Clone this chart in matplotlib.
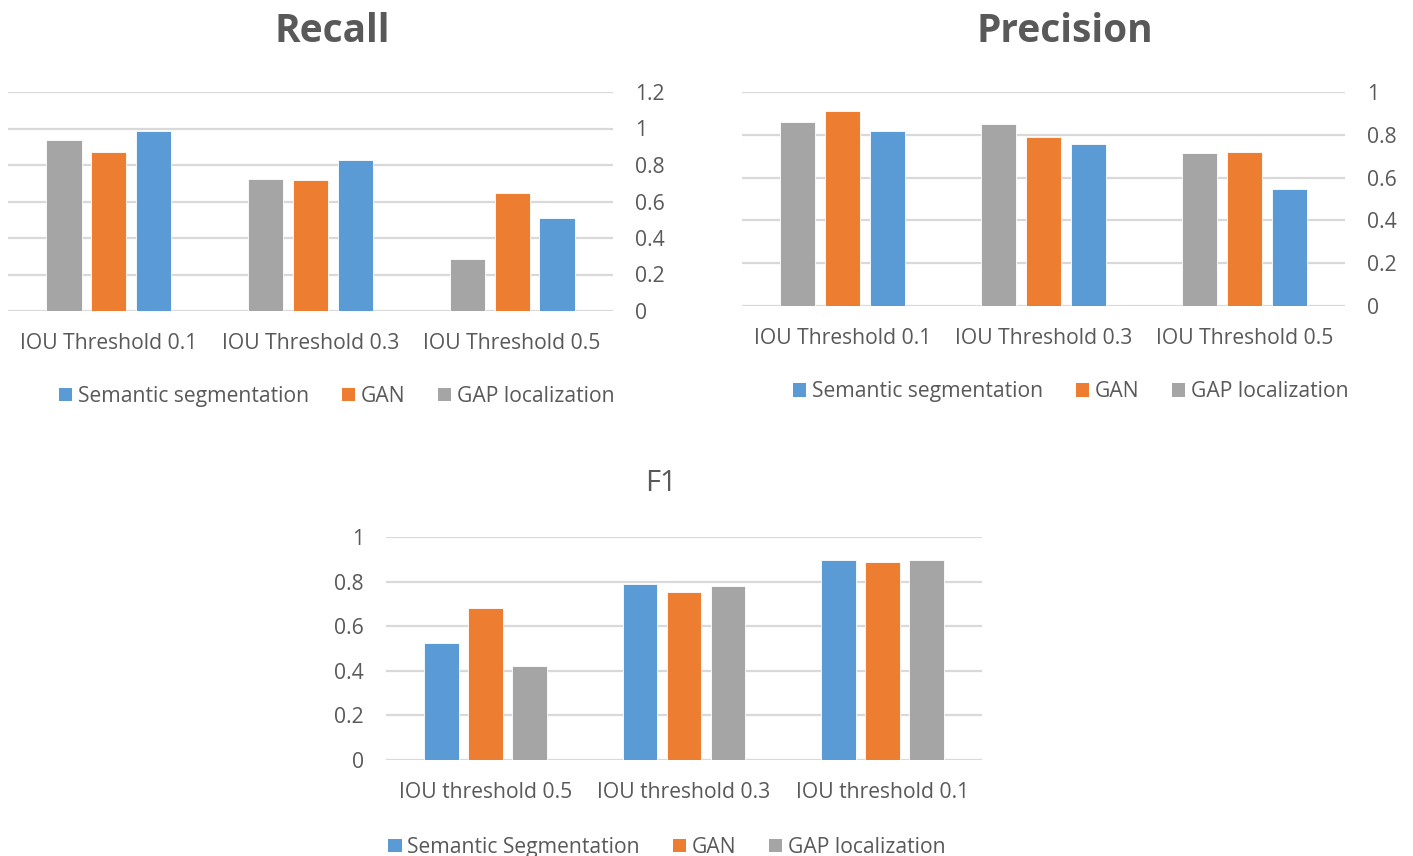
import numpy as np
import matplotlib
matplotlib.use("Agg")
import matplotlib.pyplot as plt
from matplotlib.patches import Patch

plt.rcParams['font.family'] = ['Open Sans', 'DejaVu Sans']

# Series colours
BLUE = "#5B9BD5"
ORANGE = "#ED7D31"
GRAY = "#A5A5A5"
TEXT = "#595959"
GRID = "#D9D9D9"

series_names = ["Semantic segmentation", "GAN", "GAP localization"]
f1_series_names = ["Semantic Segmentation", "GAN", "GAP localization"]

# Recall
recall_categories = ["IOU Threshold 0.1", "IOU Threshold 0.3", "IOU Threshold 0.5"]
recall_semantic = [0.987, 0.828, 0.508]
recall_gan = [0.870, 0.718, 0.647]
recall_gap = [0.938, 0.724, 0.284]

# Precision
precision_categories = ["IOU Threshold 0.1", "IOU Threshold 0.3", "IOU Threshold 0.5"]
precision_semantic = [0.820, 0.757, 0.546]
precision_gan = [0.911, 0.789, 0.720]
precision_gap = [0.861, 0.850, 0.717]

# F1
f1_categories = ["IOU threshold 0.5", "IOU threshold 0.3", "IOU threshold 0.1"]
f1_semantic = [0.523, 0.789, 0.896]
f1_gan = [0.681, 0.753, 0.888]
f1_gap = [0.420, 0.780, 0.897]

recall_ticks = [0, 0.2, 0.4, 0.6, 0.8, 1.0, 1.2]
prf_ticks = [0, 0.2, 0.4, 0.6, 0.8, 1.0]

fig = plt.figure(figsize=(14.13, 8.56), dpi=100)
fig.patch.set_facecolor("white")

BW = 0.175
OFF = 0.222
TICK_FS = 15.2


def draw(ax, cats, series, colors, ticks, ymax, side):
    x = np.arange(len(cats))
    for i, (vals, col) in enumerate(zip(series, colors)):
        ax.bar(x + (i - 1) * OFF, vals, width=BW, color=col, zorder=3,
               edgecolor="white", linewidth=0.6)
    ax.set_xlim(-0.5, len(cats) - 0.5)
    ax.set_ylim(0, ymax)
    ax.set_yticks(ticks)
    ax.set_yticklabels([("%g" % t) for t in ticks])
    ax.set_xticks(x)
    ax.set_xticklabels(cats)
    ax.grid(axis="y", color=GRID, linewidth=1.6, zorder=0)
    ax.set_axisbelow(True)
    for s in ax.spines.values():
        s.set_visible(False)
    ax.tick_params(axis="both", length=0, colors=TEXT, labelsize=TICK_FS)
    ax.tick_params(axis="x", pad=16)
    if side == "right":
        ax.yaxis.tick_right()
        ax.tick_params(axis="y", pad=16)
        for lab in ax.get_yticklabels():
            lab.set_horizontalalignment("left")
    else:
        ax.tick_params(axis="y", pad=16)


def legend(ax, names, x, y):
    handles = [Patch(facecolor=c, edgecolor="none") for c in (BLUE, ORANGE, GRAY)]
    ax.legend(handles, names, loc="center", bbox_to_anchor=(x, y), ncol=3,
              frameon=False, handlelength=0.62, handleheight=0.62,
              handletextpad=0.28, columnspacing=1.55, fontsize=TICK_FS,
              labelcolor=TEXT, borderaxespad=0)


W, H = 1413, 856


def rect(x0, y0, x1, y1):
    return [x0 / W, 1 - y1 / H, (x1 - x0) / W, (y1 - y0) / H]


ax1 = fig.add_axes(rect(8, 92, 613, 311))
draw(ax1, recall_categories, [recall_gap, recall_gan, recall_semantic],
     [GRAY, ORANGE, BLUE], recall_ticks, 1.2, "right")
legend(ax1, series_names, 0.543, -0.39)
fig.text(332 / W, 1 - 31 / H, "Recall", ha="center", va="center",
         fontsize=28, fontweight="bold", color=TEXT)

ax2 = fig.add_axes(rect(742, 92, 1345, 306))
draw(ax2, precision_categories, [precision_gap, precision_gan, precision_semantic],
     [GRAY, ORANGE, BLUE], prf_ticks, 1.0, "right")
legend(ax2, series_names, 0.545, -0.40)
fig.text(1065 / W, 1 - 31 / H, "Precision", ha="center", va="center",
         fontsize=28, fontweight="bold", color=TEXT)

ax3 = fig.add_axes(rect(386, 537, 982, 760))
draw(ax3, f1_categories, [f1_semantic, f1_gan, f1_gap],
     [BLUE, ORANGE, GRAY], prf_ticks, 1.0, "left")
legend(ax3, f1_series_names, 0.4715, -0.392)
fig.text(661 / W, 1 - 483 / H, "F1", ha="center", va="center",
         fontsize=21, color=TEXT)

fig.savefig("out.png", dpi=100, facecolor="white")
